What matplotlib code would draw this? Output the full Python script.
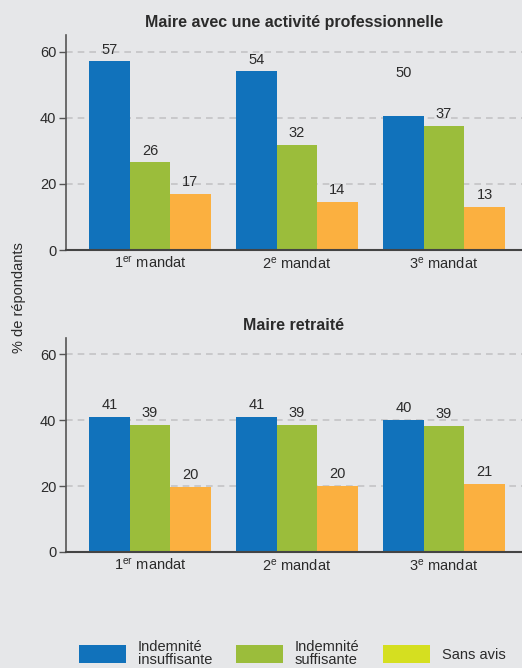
import matplotlib
matplotlib.use("Agg")
import matplotlib.pyplot as plt
from matplotlib import font_manager
from matplotlib.patches import Patch
import numpy as np

# ---- data ----
mandats = [r"1$^{\mathrm{er}}$ mandat", r"2$^{\mathrm{e}}$ mandat", r"3$^{\mathrm{e}}$ mandat"]
series = ["Indemnité\ninsuffisante", "Indemnité\nsuffisante", "Sans avis"]

# Maire avec une activité professionnelle
actif_insuff = [57, 54, 40.5]
actif_suff = [26.5, 31.8, 37.5]
actif_sans = [17, 14.5, 13]
actif_labels = [[57, 54, 50], [26, 32, 37], [17, 14, 13]]
# label heights as printed in the source (the "50" sits above a ~40 bar)
actif_label_pos = [[57, 54, 50], [26.5, 31.8, 37.5], [17, 14.5, 13]]

# Maire retraité
retr_insuff = [41, 41, 40]
retr_suff = [38.6, 38.6, 38.3]
retr_sans = [19.8, 20.1, 20.7]
retr_labels = [[41, 41, 40], [39, 39, 39], [20, 20, 21]]

BG = "#e6e7e9"
COLORS = ["#1172bb", "#9bbd3b", "#fbb040"]
LEGEND_COLORS = ["#1172bb", "#9bbd3b", "#d5df20"]
TXT = "#2b2b2b"

names = {f.name for f in font_manager.fontManager.ttflist}
FONT = "Liberation Sans Narrow" if "Liberation Sans Narrow" in names else "Liberation Sans"
plt.rcParams["font.family"] = [FONT, "DejaVu Sans"]
plt.rcParams["mathtext.fontset"] = "custom"
plt.rcParams["mathtext.rm"] = FONT
plt.rcParams["mathtext.it"] = FONT
plt.rcParams["mathtext.bf"] = FONT + ":bold"

fig = plt.figure(figsize=(5.22, 6.68), dpi=100, facecolor=BG)
ax_top = fig.add_axes([0.1264, 0.6257, 0.8736, 0.3219])
ax_bot = fig.add_axes([0.1264, 0.1737, 0.8736, 0.3205])

x = np.arange(len(mandats))
w = 0.275


def draw(ax, vals, labels, label_pos, title):
    ax.set_facecolor(BG)
    for i, (v, c) in enumerate(zip(vals, COLORS)):
        ax.bar(x + (i - 1) * w, v, width=w, color=c, zorder=3)
        for xi, lab, pos in zip(x, labels[i], label_pos[i]):
            ax.annotate(str(lab), (xi + (i - 1) * w, pos), xytext=(0, 3.5),
                        textcoords="offset points", ha="center", va="bottom",
                        fontsize=10.5, color=TXT, zorder=4)
    ax.set_xlim(-0.571, 2.53)
    ax.set_ylim(0, 65)
    ax.set_yticks([0, 20, 40, 60])
    ax.set_xticks(x)
    ax.set_xticklabels(mandats)
    ax.tick_params(axis="x", length=0, pad=4, labelsize=10.5, labelcolor=TXT)
    ax.tick_params(axis="y", length=5, width=1, color="#555555", pad=2,
                   labelsize=10.5, labelcolor=TXT)
    ax.grid(axis="y", color="#c4c4c6", linestyle=(0, (4, 3)), linewidth=1.2, zorder=0)
    for s in ["top", "right"]:
        ax.spines[s].set_visible(False)
    ax.spines["left"].set_color("#555555")
    ax.spines["left"].set_linewidth(1.2)
    ax.spines["bottom"].set_color("#444444")
    ax.spines["bottom"].set_linewidth(1.5)
    ax.spines["bottom"].set_zorder(5)
    ax.set_title(title, fontsize=11.5, fontweight="bold", color=TXT, pad=6)


draw(ax_top, [actif_insuff, actif_suff, actif_sans], actif_labels, actif_label_pos,
     "Maire avec une activité professionnelle")
draw(ax_bot, [retr_insuff, retr_suff, retr_sans], retr_labels,
     [retr_insuff, retr_suff, retr_sans], "Maire retraité")

fig.text(0.036, 0.555, "% de répondants", rotation=90, ha="center", va="center",
         fontsize=10.5, color=TXT)

handles = [Patch(facecolor=c, edgecolor="none") for c in LEGEND_COLORS]
leg = fig.legend(handles, series, loc="center", bbox_to_anchor=(0.56, 0.022), ncol=3,
                 frameon=False, fontsize=10.5, handlelength=3.2, handleheight=1.45,
                 handletextpad=0.8, columnspacing=1.65, labelspacing=0.2)
for t in leg.get_texts():
    t.set_color(TXT)
    t.set_linespacing(0.95)

fig.savefig("out.png", dpi=100, facecolor=BG)
